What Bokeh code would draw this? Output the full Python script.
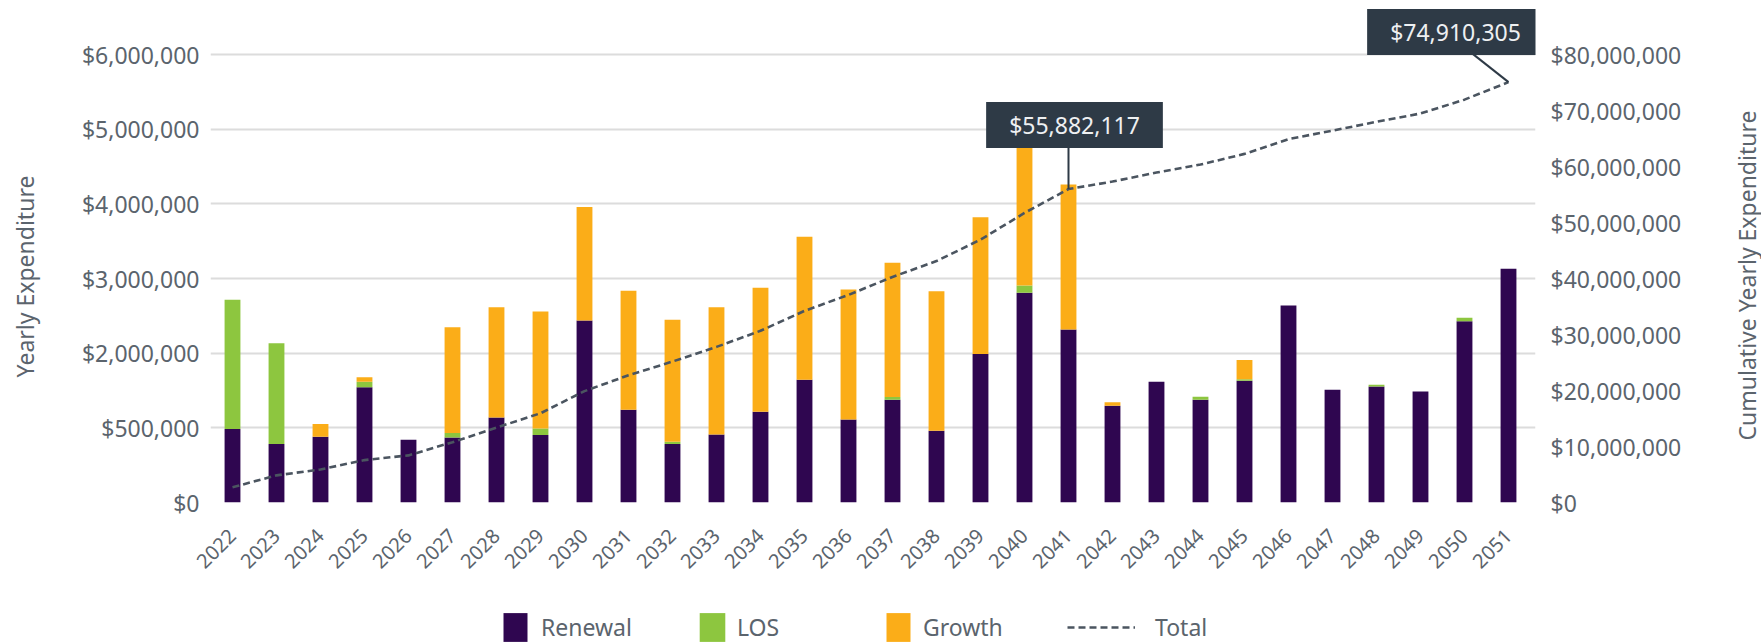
import math
import numpy as np
from bokeh.plotting import figure
from bokeh.layouts import column, row
from bokeh.models import (Range1d, LinearAxis, FixedTicker, NumeralTickFormatter,
                          Legend, LegendItem, Label, ColumnDataSource)
from bokeh.embed import file_html
from bokeh.resources import INLINE

# ---------------- data ----------------
years = ["2022", "2023", "2024", "2025", "2026", "2027", "2028", "2029", "2030", "2031",
         "2032", "2033", "2034", "2035", "2036", "2037", "2038", "2039", "2040", "2041",
         "2042", "2043", "2044", "2045", "2046", "2047", "2048", "2049", "2050", "2051"]
renewal = [984000, 783000, 881000, 1542000, 841000, 872000, 1140000, 904000, 2437000, 1243000,
           783000, 912000, 1216000, 1645000, 1113000, 1377000, 961000, 1990000, 2808000, 2316000,
           1297000, 1618000, 1377000, 1632000, 2638000, 1511000, 1552000, 1485000, 2427000, 3130000]
los = [1730000, 1349000, 0, 76000, 0, 58000, 0, 88000, 0, 0,
       31000, 0, 0, 0, 0, 36000, 0, 0, 98000, 0,
       0, 0, 40000, 18000, 0, 0, 26000, 0, 46000, 0]
growth = [0, 0, 170000, 58000, 0, 1417000, 1475000, 1565000, 1519000, 1592000,
          1632000, 1703000, 1659000, 1914000, 1739000, 1797000, 1869000, 1830000, 1870000, 1944000,
          44000, 0, 0, 260000, 0, 0, 0, 0, 0, 0]
series_names = ["Renewal", "LOS", "Growth"]
line_name = "Total"
left_ticks = [0, 1000000, 2000000, 3000000, 4000000, 5000000, 6000000]
left_tick_labels = ["$0", "$500,000", "$2,000,000", "$3,000,000", "$4,000,000", "$5,000,000", "$6,000,000"]
right_ticks = [0, 10000000, 20000000, 30000000, 40000000, 50000000, 60000000, 70000000, 80000000]
callout_years = ["2041", "2051"]
callout_texts = ["$55,882,117", "$74,910,305"]
left_title = "Yearly Expenditure"
right_title = "Cumulative Yearly Expenditure"

# ---------------- styling / layout ----------------
FONT = "Noto Sans"
TXT = "#5b646d"
COLORS = ["#2f0650", "#8dc63f", "#fbad18"]
LINE = "#4b5560"
DARK = "#2e3a46"
W, H = 1761, 643
LW, RW = 48, 32                       # title strips left / right
PW = W - LW - RW                      # main plot width
H_MAIN = 603
H_LEG = H - H_MAIN
BAR_PX = 44.0                         # pixels per category
EXTRA_R = 5                           # frame reaches 5px past the last slot (room for callout)
B_TOP = 8                             # frame spans y = 8 .. 502
B_BOT = H_MAIN - 502
B_LEFT = 210 - LW                     # frame spans x = 210 .. 1535
B_RIGHT = PW - (1530 + EXTRA_R - LW)
FRAME_H = H_MAIN - B_TOP - B_BOT      # 494
GRID_H = 448                          # pixel height of 0 .. 6,000,000

x = list(range(len(years)))
totals = np.array(renewal) + np.array(los) + np.array(growth)
cum = np.cumsum(totals)

y_end = left_ticks[-1] * FRAME_H / GRID_H
r_end = right_ticks[-1] * FRAME_H / GRID_H

p = figure(width=PW, height=H_MAIN, output_backend="svg", toolbar_location=None,
           x_range=Range1d(-0.5, len(years) - 0.5 + EXTRA_R / BAR_PX), y_range=Range1d(0, y_end),
           min_border_left=B_LEFT, min_border_right=B_RIGHT, min_border_top=B_TOP,
           min_border_bottom=B_BOT)
p.outline_line_color = None
p.extra_y_ranges = {"cum": Range1d(0, r_end)}

src = ColumnDataSource(dict(x=x, Renewal=renewal, LOS=los, Growth=growth))
bars = p.vbar_stack(series_names, x="x", width=0.36, color=COLORS, line_color=None, source=src)
ln = p.line(x, cum, y_range_name="cum", line_color=LINE, line_width=2.6, line_dash="7 4")

xa = p.xaxis[0]
xa.ticker = FixedTicker(ticks=x)
xa.major_label_overrides = {i: years[i] for i in x}
xa.major_label_orientation = math.pi / 4

ya = p.yaxis[0]
ya.ticker = FixedTicker(ticks=left_ticks)
ya.major_label_overrides = {t: l for t, l in zip(left_ticks, left_tick_labels)}

ra = LinearAxis(y_range_name="cum", ticker=FixedTicker(ticks=right_ticks),
                formatter=NumeralTickFormatter(format="$0,0"))
p.add_layout(ra, "right")

for ax in [xa, ya, ra]:
    ax.axis_line_color = None
    ax.major_tick_line_color = None
    ax.minor_tick_line_color = None
    ax.major_tick_out = 0
    ax.major_tick_in = 0
    ax.minor_tick_out = 0
    ax.major_label_text_font = FONT
    ax.major_label_text_color = TXT
    ax.major_label_text_font_size = "23px"
xa.major_label_text_font_size = "20px"
xa.major_label_standoff = 30
ya.major_label_standoff = 11
ra.major_label_standoff = 20 - EXTRA_R

p.xgrid.grid_line_color = None
p.ygrid.ticker = FixedTicker(ticks=left_ticks)
p.ygrid.grid_line_color = "#dcdcdc"
p.ygrid.grid_line_width = 2

# callouts
unit = right_ticks[-1] / float(GRID_H)   # data units per pixel on the cumulative axis
box_off = [(6, 64), (-53, 50)]
ptr_off = [(0, 43), (-38, 30)]
for yr, txt, (bx, by), (px, py) in zip(callout_years, callout_texts, box_off, ptr_off):
    i = years.index(yr)
    p.segment(x0=[i], y0=[cum[i]], x1=[i + px / BAR_PX], y1=[cum[i] + py * unit],
              y_range_name="cum", line_color=DARK, line_width=2)
    kw = dict(x=i, y=cum[i], y_range_name="cum", x_offset=bx, y_offset=by, text=txt,
              text_align="center", text_baseline="middle", text_color="#eef0f2",
              text_font=FONT, text_font_size="23px", background_fill_color=DARK)
    try:
        lab = Label(padding=dict(left=23, right=23, top=7, bottom=7), **kw)
    except Exception:
        lab = Label(padding=10, **kw)
    p.add_layout(lab)


def strip(width, height, **borders):
    f = figure(width=width, height=height, output_backend="svg", toolbar_location=None,
               x_range=Range1d(0, 1), y_range=Range1d(0, 1), x_axis_type=None,
               y_axis_type=None, **borders)
    f.outline_line_color = None
    f.xgrid.grid_line_color = None
    f.ygrid.grid_line_color = None
    return f


# axis titles (rotated, reading bottom to top)
lf = strip(LW, H_MAIN, min_border_left=0, min_border_right=0,
           min_border_top=B_TOP, min_border_bottom=B_BOT)
lf.add_layout(Label(x=24, y=226, x_units="screen", y_units="screen", angle=math.pi / 2,
                    text=left_title, text_align="center", text_baseline="middle",
                    text_font=FONT, text_font_size="23px", text_color=TXT))
rf = strip(RW, H_MAIN, min_border_left=0, min_border_right=0,
           min_border_top=B_TOP, min_border_bottom=B_BOT)
rf.add_layout(Label(x=17, y=227, x_units="screen", y_units="screen", angle=math.pi / 2,
                    text=right_title, text_align="center", text_baseline="middle",
                    text_font=FONT, text_font_size="23px", text_color=TXT))

# legend strip (proxy renderers sit far outside the visible range)
q = strip(PW, H_LEG, min_border_left=B_LEFT, min_border_right=B_RIGHT,
          min_border_top=0, min_border_bottom=0)
dummies = [q.vbar(x=[-50], top=[-50], bottom=[-51], width=0.1, color=c, line_color=None)
           for c in COLORS]
dummies.append(q.line(x=[-50, -49], y=[-50, -50], line_color=LINE, line_width=2.6,
                      line_dash="7 4"))
names = series_names + [line_name]
locs = [290, 486, 673, 857]
gw = [30, 32, 30, 68]
std = [11, 9, 10, 20]
for r, n, lx, w_, s_ in zip(dummies, names, locs, gw, std):
    lg = Legend(items=[LegendItem(label=n, renderers=[r])], location=(lx, H_LEG - 42),
                orientation="horizontal", glyph_width=w_, glyph_height=36, label_standoff=s_,
                padding=0, margin=0, border_line_color=None, background_fill_alpha=0,
                label_text_font=FONT, label_text_font_size="23px", label_text_color=TXT)
    q.add_layout(lg, "center")

layout = row(lf, column(p, q, spacing=0), rf, spacing=0)
open("out.html", "w").write(file_html(layout, INLINE))
